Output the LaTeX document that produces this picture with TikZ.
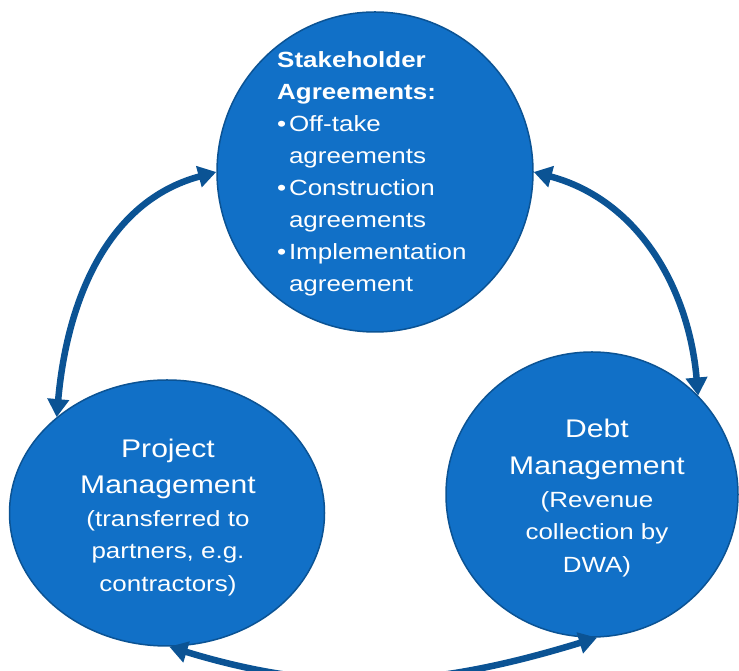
\documentclass[tikz,border=0pt]{standalone}
\usepackage{fontspec}
\setmainfont{Liberation Sans}
\usepackage{tikz}
\usetikzlibrary{shapes.geometric, arrows.meta}

\definecolor{fillblue}{RGB}{17,112,199}
\definecolor{edgeblue}{RGB}{11,83,148}
\newcommand{\bigtxt}{\fontsize{25.5}{30}\selectfont}

\begin{document}
\begin{tikzpicture}[x=1pt, y=1pt,
    bubble/.style={ellipse, draw=edgeblue, line width=1.5pt, fill=fillblue, inner sep=0pt},
    bubbletext/.style={text=white, inner sep=0pt, align=center, xscale=1.18, transform shape,
      font=\fontsize{22}{32.5}\selectfont},
    linkarrow/.style={{Triangle[length=18pt,width=21pt]}-{Triangle[length=18pt,width=21pt]},
      draw=edgeblue, line width=6.5pt}]
    \useasboundingbox (0,0) rectangle (739,671);
    \clip (0,0) rectangle (739,671);

    % Draw the three circles
    \node[bubble, minimum width=316pt, minimum height=320pt] (stake) at (375,499) {};
    \node[bubble, minimum width=315pt, minimum height=266pt] (proj) at (167,158) {};
    \node[bubble, minimum width=292pt, minimum height=285pt] (debt) at (592,176.5) {};

    % Draw arrows between the circles
    \foreach \a/\b/\o/\i in {proj.139/stake.180/85/195, stake.0/debt.43/-15/95, proj.271/debt.272/-17/197} {
      \draw[linkarrow] (\a) to[out=\o, in=\i] (\b);
    }

    % Texts inside the circles
    \node[bubbletext, anchor=west, align=left, font=\fontsize{22}{32}\selectfont] (staketxt)
      at ([xshift=-98pt, yshift=-2.3pt]stake.center)
      {\textbf{Stakeholder}\\ \textbf{Agreements:}\\
       \makebox[10pt][l]{\textbullet}Off-take\\ \hspace*{10pt}agreements\\
       \makebox[10pt][l]{\textbullet}Construction\\ \hspace*{10pt}agreements\\
       \makebox[10pt][l]{\textbullet}Implementation\\ \hspace*{10pt}agreement};
    \node[bubbletext] (projtxt) at ([xshift=1pt, yshift=-4.5pt]proj.center)
      {{\bigtxt Project}\\[3.5pt]{\bigtxt Management}\\[0.5pt](transferred to\\partners, e.g.\\contractors)};
    \node[bubbletext] (debttxt) at ([xshift=5pt, yshift=-3.5pt]debt.center)
      {{\bigtxt Debt}\\[4.5pt]{\bigtxt Management}\\[0.5pt](Revenue\\collection by\\DWA)};

\end{tikzpicture}
\end{document}
